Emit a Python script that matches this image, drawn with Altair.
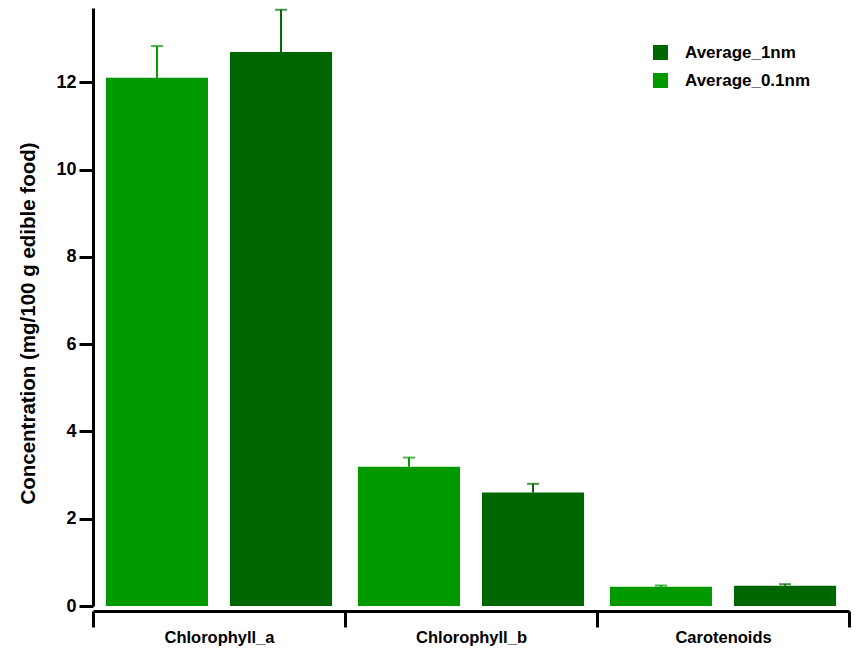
import altair as alt
import pandas as pd

# Pigment concentrations (mg/100 g edible food) for two particle sizes
categories = ["Chlorophyll_a", "Chlorophyll_b", "Carotenoids"]
series_names = ["Average_0.1nm", "Average_1nm"]
avg_01nm = [12.10, 3.19, 0.44]
err_01nm = [0.73, 0.21, 0.03]
avg_1nm = [12.69, 2.60, 0.465]
err_1nm = [0.97, 0.20, 0.035]

rows = []
for cat, v, e in zip(categories, avg_01nm, err_01nm):
    rows.append({"pigment": cat, "series": series_names[0], "value": v, "upper": v + e})
for cat, v, e in zip(categories, avg_1nm, err_1nm):
    rows.append({"pigment": cat, "series": series_names[1], "value": v, "upper": v + e})
df = pd.DataFrame(rows)

FONT = "Liberation Sans"
BRIGHT = "#009900"
DARK = "#006600"

x_enc = alt.X(
    "pigment:N",
    sort=categories,
    scale=alt.Scale(paddingInner=0, paddingOuter=0),
    axis=alt.Axis(
        title=None,
        labelAngle=0,
        labelFont=FONT,
        labelFontSize=16.5,
        labelFontWeight="bold",
        labelColor="black",
        labelPadding=2,
        tickBand="extent",
        tickSize=16,
        tickWidth=3,
        tickColor="black",
        domainWidth=3,
        domainColor="black",
        offset=5,
    ),
)
xoff_enc = alt.XOffset(
    "series:N",
    sort=series_names,
    scale=alt.Scale(paddingInner=0.177, paddingOuter=0.104),
)
y_scale = alt.Scale(domain=[0, 13.7], nice=False)

color_enc = alt.Color(
    "series:N",
    scale=alt.Scale(domain=["Average_1nm", "Average_0.1nm"], range=[DARK, BRIGHT]),
    legend=alt.Legend(
        title=None,
        orient="none",
        legendX=559,
        legendY=36,
        symbolType="square",
        symbolSize=225,
        symbolStrokeWidth=0,
        symbolOpacity=1,
        labelFont=FONT,
        labelFontSize=17,
        labelFontWeight="bold",
        labelColor="black",
        labelOffset=16,
        rowPadding=10,
    ),
)

bars = alt.Chart(df).mark_bar(opacity=1).encode(
    x=x_enc,
    xOffset=xoff_enc,
    y=alt.Y(
        "value:Q",
        scale=y_scale,
        axis=alt.Axis(
            title="Concentration (mg/100 g edible food)",
            titleFont=FONT,
            titleFontSize=20.5,
            titleFontWeight="bold",
            titleColor="black",
            titleAngle=-90,
            titleX=-65,
            titleY=315,
            titleAlign="center",
            titleBaseline="middle",
            values=[0, 2, 4, 6, 8, 10, 12],
            labelFont=FONT,
            labelFontSize=18,
            labelFontWeight="bold",
            labelColor="black",
            labelPadding=3,
            tickSize=14,
            tickWidth=3,
            tickColor="black",
            domainWidth=3,
            domainColor="black",
            grid=False,
        ),
    ),
    color=color_enc,
)

err_color = alt.Color(
    "series:N",
    scale=alt.Scale(domain=["Average_1nm", "Average_0.1nm"], range=[DARK, BRIGHT]),
    legend=None,
)

err_rules = alt.Chart(df).mark_rule(strokeWidth=2).encode(
    x=alt.X("pigment:N", sort=categories),
    xOffset=xoff_enc,
    y=alt.Y("value:Q", scale=y_scale),
    y2="upper:Q",
    color=err_color,
)

err_caps = alt.Chart(df).mark_tick(thickness=2, size=12, orient="horizontal").encode(
    x=alt.X("pigment:N", sort=categories),
    xOffset=xoff_enc,
    y=alt.Y("upper:Q", scale=y_scale),
    color=err_color,
)

chart = (
    alt.layer(bars, err_rules, err_caps)
    .properties(
        width=756,
        height=598,
        autosize=alt.AutoSizeParams(type="none"),
        padding={"left": 93, "top": 8, "right": 8, "bottom": 42},
        background="white",
    )
    .configure_view(stroke=None)
)

chart.save("out.html", embed_options={"renderer": "svg", "actions": False})
